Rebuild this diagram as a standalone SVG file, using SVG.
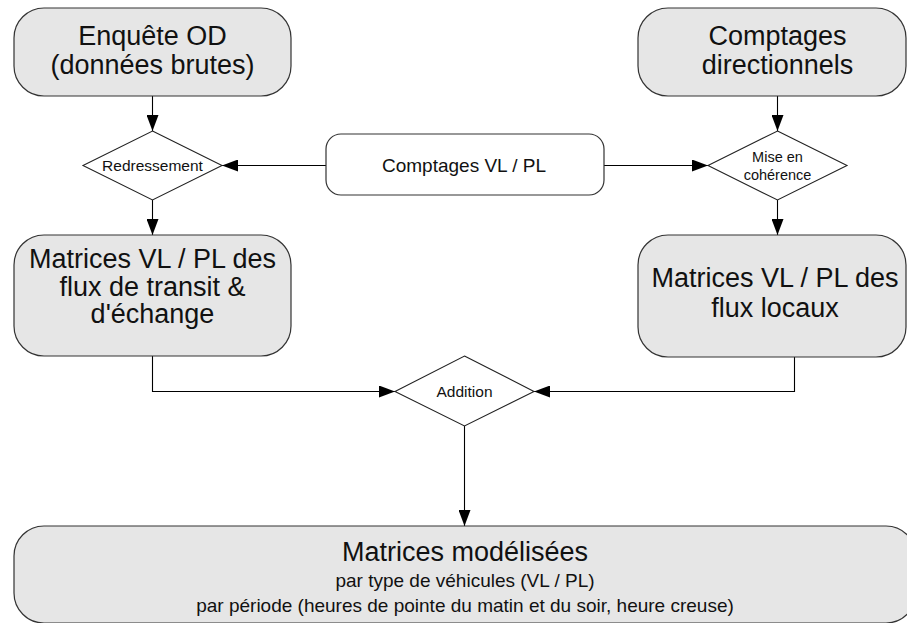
<svg xmlns="http://www.w3.org/2000/svg" width="907" height="623" viewBox="0 0 907 623">
  <defs>
    <marker id="arrow" viewBox="0 0 16 12" refX="16" refY="6" markerWidth="16" markerHeight="12" markerUnits="userSpaceOnUse" orient="auto">
      <path d="M0,0 L16,6 L0,12 Z" fill="#000"/>
    </marker>
  </defs>
  <style>
    .box { fill: #e6e6e6; stroke: #333; stroke-width: 1.2; }
    .pill { fill: #fff; stroke: #333; stroke-width: 1.2; }
    .dia { fill: #fff; stroke: #222; stroke-width: 1.1; }
    .link { fill: none; stroke: #000; stroke-width: 1.1; marker-end: url(#arrow); }
    text { font-family: "Liberation Sans", Arial, sans-serif; fill: #111; text-anchor: middle; }
    .big { font-size: 27px; }
    .mid { font-size: 19px; }
    .small { font-size: 15.5px; }
    .tiny { font-size: 14.5px; }
  </style>

  <g id="connectors">
    <line class="link" x1="152.5" y1="96" x2="152.5" y2="131"/>
    <line class="link" x1="152.5" y1="200" x2="152.5" y2="235"/>
    <line class="link" x1="326" y1="165.5" x2="222" y2="165.5"/>
    <line class="link" x1="604" y1="165.5" x2="708" y2="165.5"/>
    <line class="link" x1="777.5" y1="96" x2="777.5" y2="131"/>
    <line class="link" x1="777.5" y1="200" x2="777.5" y2="235"/>
    <polyline class="link" points="152.5,356 152.5,391.5 395,391.5"/>
    <polyline class="link" points="794.5,357 794.5,391.5 534,391.5"/>
    <line class="link" x1="464.5" y1="426" x2="464.5" y2="526"/>
  </g>

  <g id="enquete-od">
    <rect class="box" x="14" y="8" width="277" height="88" rx="30" ry="30"/>
    <text class="big" x="152.5" y="45">Enquête OD</text>
    <text class="big" x="152.5" y="74">(données brutes)</text>
  </g>

  <g id="comptages-directionnels">
    <rect class="box" x="638" y="8" width="268" height="88" rx="30" ry="30"/>
    <text class="big" x="777.5" y="45">Comptages</text>
    <text class="big" x="777.5" y="74">directionnels</text>
  </g>

  <g id="comptages-vl-pl">
    <rect class="pill" x="326" y="134" width="278" height="61" rx="15" ry="15"/>
    <text class="mid" x="464" y="172">Comptages VL / PL</text>
  </g>

  <g id="redressement">
    <polygon class="dia" points="152.5,131 222,165.5 152.5,200 83,165.5"/>
    <text class="small" x="152.5" y="171">Redressement</text>
  </g>

  <g id="mise-en-coherence">
    <polygon class="dia" points="777.5,131 847,165.5 777.5,200 708,165.5"/>
    <text class="tiny" x="777.5" y="162">Mise en</text>
    <text class="tiny" x="777.5" y="180">cohérence</text>
  </g>

  <g id="matrices-transit">
    <rect class="box" x="14" y="235" width="277" height="121" rx="30" ry="30"/>
    <text class="big" x="152.5" y="268">Matrices VL / PL des</text>
    <text class="big" x="152.5" y="296">flux de transit &amp;</text>
    <text class="big" x="152.5" y="323">d'échange</text>
  </g>

  <g id="matrices-locaux">
    <rect class="box" x="638" y="235" width="268" height="122" rx="30" ry="30"/>
    <text class="big" x="775" y="287">Matrices VL / PL des</text>
    <text class="big" x="775" y="317">flux locaux</text>
  </g>

  <g id="addition">
    <polygon class="dia" points="464.5,356 534,391.5 464.5,426 395,391.5"/>
    <text class="small" x="464.5" y="397">Addition</text>
  </g>

  <g id="matrices-modelisees">
    <rect class="box" x="14" y="526" width="902" height="97" rx="30" ry="30"/>
    <text class="big" x="465" y="561">Matrices modélisées</text>
    <text class="mid" x="465" y="587">par type de véhicules (VL / PL)</text>
    <text class="mid" x="465" y="612">par période (heures de pointe du matin et du soir, heure creuse)</text>
  </g>
</svg>
